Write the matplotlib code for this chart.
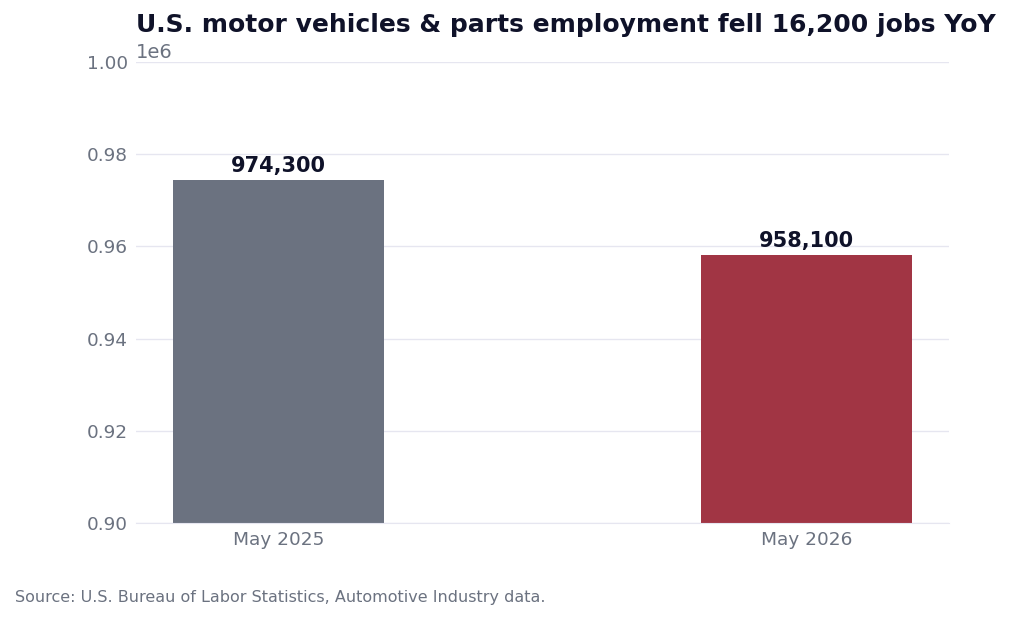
import matplotlib
matplotlib.use("Agg")
import matplotlib.pyplot as plt

plt.rcParams["font.family"] = ["DejaVu Sans"]

# Data
periods = ["May 2025", "May 2026"]
employment = [974300, 958100]
bar_colors = ["#6b7280", "#a13544"]

text_dark = "#0f1229"
text_grey = "#6b7280"
grid_color = "#e6e6f0"

fig = plt.figure(figsize=(10.12, 6.21), dpi=100)
ax = fig.add_axes([0.1344, 0.1578, 0.8034, 0.7424])

x = range(len(periods))
bars = ax.bar(x, employment, width=0.4, color=bar_colors, zorder=2)

ax.set_ylim(900000, 1000000)
ax.set_xticks(list(x))
ax.set_xticklabels(periods)

# Value labels above bars
for b, v in zip(bars, employment):
    ax.annotate(f"{v:,}", (b.get_x() + b.get_width() / 2, v),
                xytext=(0, 3), textcoords="offset points",
                ha="center", va="bottom", fontsize=15, fontweight="bold",
                color=text_dark)

for s in ax.spines.values():
    s.set_visible(False)
ax.spines["bottom"].set_visible(True)
ax.spines["bottom"].set_color(grid_color)
ax.grid(axis="y", color=grid_color, linewidth=1, zorder=0)
ax.tick_params(axis="both", length=0, labelsize=13.3, labelcolor=text_grey, pad=6)
ax.yaxis.get_offset_text().set_color(text_grey)
ax.yaxis.get_offset_text().set_fontsize(14)

ax.set_title("U.S. motor vehicles & parts employment fell 16,200 jobs YoY",
             loc="left", fontsize=18, fontweight="bold", color=text_dark, pad=8)

fig.text(0.015, 0.025, "Source: U.S. Bureau of Labor Statistics, Automotive Industry data.",
         fontsize=11.5, color=text_grey, ha="left", va="bottom")

fig.savefig("out.png", dpi=100)
